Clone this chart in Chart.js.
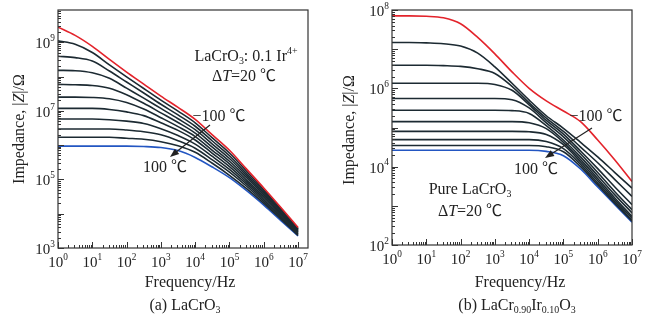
<!DOCTYPE html>
<html>
<head>
<meta charset="utf-8">
<script src="https://cdn.jsdelivr.net/npm/chart.js@4"></script>
<style>
  body { margin: 0; background: #fff; width: 649px; height: 323px; position: relative; overflow: hidden; }
  .box { position: absolute; top: 0; height: 323px; }
</style>
</head>
<body>
<div class="box" style="left:0;width:325px"><canvas id="chartA"></canvas></div>
<div class="box" style="left:325px;width:324px"><canvas id="chartB"></canvas></div>
<script>
// frequency points, log10(f / Hz)
const logFreq = [0, 0.5, 1, 1.5, 2, 2.5, 3, 3.5, 4, 4.5, 5, 5.5, 6, 6.5, 7];
// temperatures, -100 .. 100 C in 20 C steps
const temps = [-100, -80, -60, -40, -20, 0, 20, 40, 60, 80, 100];

// (a) log10 |Z|, one row per temperature
const logZ_a = [
  [9.44, 9.20, 8.88, 8.50, 8.13, 7.78, 7.43, 7.10, 6.75, 6.30, 5.85, 5.30, 4.75, 4.18, 3.60],
  [9.04, 8.94, 8.70, 8.34, 7.99, 7.65, 7.31, 6.99, 6.65, 6.21, 5.77, 5.24, 4.70, 4.14, 3.57],
  [8.59, 8.55, 8.45, 8.16, 7.84, 7.52, 7.19, 6.88, 6.55, 6.12, 5.69, 5.17, 4.65, 4.10, 3.55],
  [8.18, 8.17, 8.11, 7.95, 7.66, 7.37, 7.07, 6.77, 6.45, 6.03, 5.61, 5.11, 4.60, 4.07, 3.52],
  [7.77, 7.76, 7.74, 7.66, 7.47, 7.22, 6.94, 6.66, 6.35, 5.94, 5.53, 5.05, 4.55, 4.03, 3.50],
  [7.40, 7.40, 7.39, 7.35, 7.24, 7.05, 6.80, 6.54, 6.25, 5.85, 5.45, 4.98, 4.50, 3.99, 3.47],
  [7.07, 7.07, 7.07, 7.04, 6.97, 6.86, 6.65, 6.43, 6.15, 5.76, 5.37, 4.92, 4.45, 3.95, 3.45],
  [6.76, 6.76, 6.76, 6.74, 6.70, 6.63, 6.48, 6.28, 6.03, 5.67, 5.29, 4.86, 4.40, 3.91, 3.42],
  [6.47, 6.47, 6.47, 6.47, 6.44, 6.39, 6.30, 6.13, 5.91, 5.57, 5.21, 4.80, 4.35, 3.87, 3.40],
  [6.23, 6.23, 6.23, 6.23, 6.20, 6.17, 6.10, 5.98, 5.79, 5.47, 5.12, 4.73, 4.30, 3.84, 3.37],
  [5.97, 5.97, 5.97, 5.97, 5.97, 5.96, 5.93, 5.84, 5.64, 5.36, 5.05, 4.67, 4.25, 3.80, 3.35]
];

// (b) log10 |Z|
const logZ_b = [
  [7.85, 7.85, 7.84, 7.80, 7.65, 7.30, 6.88, 6.42, 6.00, 5.68, 5.42, 5.15, 4.68, 4.17, 3.62],
  [7.17, 7.17, 7.16, 7.14, 7.08, 6.90, 6.55, 6.13, 5.70, 5.30, 4.98, 4.62, 4.25, 3.85, 3.45],
  [6.59, 6.59, 6.59, 6.58, 6.56, 6.50, 6.38, 6.05, 5.63, 5.24, 4.90, 4.50, 4.10, 3.67, 3.24],
  [6.13, 6.13, 6.13, 6.13, 6.13, 6.13, 6.10, 5.95, 5.58, 5.18, 4.83, 4.40, 3.95, 3.48, 3.03],
  [5.74, 5.74, 5.74, 5.74, 5.74, 5.74, 5.74, 5.71, 5.50, 5.12, 4.76, 4.33, 3.85, 3.36, 2.90],
  [5.44, 5.44, 5.44, 5.44, 5.44, 5.44, 5.44, 5.43, 5.36, 5.05, 4.68, 4.25, 3.77, 3.28, 2.82],
  [5.15, 5.15, 5.15, 5.15, 5.15, 5.15, 5.15, 5.15, 5.12, 4.97, 4.62, 4.18, 3.70, 3.20, 2.73],
  [4.90, 4.90, 4.90, 4.90, 4.90, 4.90, 4.90, 4.90, 4.89, 4.82, 4.56, 4.12, 3.64, 3.15, 2.69],
  [4.69, 4.69, 4.69, 4.69, 4.69, 4.69, 4.69, 4.69, 4.69, 4.64, 4.46, 4.06, 3.58, 3.10, 2.64],
  [4.54, 4.54, 4.54, 4.54, 4.54, 4.54, 4.54, 4.54, 4.54, 4.51, 4.38, 4.00, 3.53, 3.06, 2.61],
  [4.42, 4.42, 4.42, 4.42, 4.42, 4.42, 4.42, 4.42, 4.42, 4.39, 4.28, 3.94, 3.48, 3.03, 2.58]
];

// tick labels (exponents of ten)
const xTickExp = [0, 1, 2, 3, 4, 5, 6, 7];
const yTickExp_a = [3, 5, 7, 9];
const yTickExp_b = [2, 4, 6, 8];

const FAM = '"Liberation Serif", "Noto Sans CJK SC", serif';
const RED = '#e3232b', BLACK = '#1c2a32', BLUE = '#2356c2', INK = '#222';

function makeSets(rows) {
  return rows.map((row, i) => ({
    label: temps[i] + ' ℃',
    data: logFreq.map((lf, j) => ({ x: Math.pow(10, lf), y: Math.pow(10, row[j]) })),
    borderColor: i === 0 ? RED : (i === rows.length - 1 ? BLUE : BLACK),
    borderWidth: 1.6,
    pointRadius: 0,
    fill: false,
    cubicInterpolationMode: 'monotone'
  }));
}

// draw text made of runs: plain strings, or [text, 'sub'|'sup'|'i']
function drawRich(ctx, runs, x, y, size, align) {
  const parts = runs.map(r => typeof r === 'string' ? { t: r, s: 'n' } : { t: r[0], s: r[1] });
  const fontOf = p => {
    const small = p.s === 'sub' || p.s === 'sup';
    return (p.s === 'i' ? 'italic ' : '') + (small ? size * 0.62 : size) + 'px ' + FAM;
  };
  let w = 0;
  parts.forEach(p => { ctx.font = fontOf(p); p.w = ctx.measureText(p.t).width; w += p.w; });
  let cx = align === 'center' ? x - w / 2 : (align === 'right' ? x - w : x);
  ctx.textAlign = 'left';
  ctx.textBaseline = 'middle';
  parts.forEach(p => {
    ctx.font = fontOf(p);
    const dy = p.s === 'sub' ? size * 0.3 : (p.s === 'sup' ? -size * 0.38 : 0);
    ctx.fillText(p.t, cx, y + dy);
    cx += p.w;
  });
}

function arrow(ctx, x1, y1, x2, y2) {
  const a = Math.atan2(y2 - y1, x2 - x1);
  ctx.strokeStyle = INK; ctx.fillStyle = INK; ctx.lineWidth = 1.2;
  ctx.beginPath(); ctx.moveTo(x1, y1); ctx.lineTo(x2 - 6 * Math.cos(a), y2 - 6 * Math.sin(a)); ctx.stroke();
  ctx.beginPath();
  ctx.moveTo(x2, y2);
  ctx.lineTo(x2 - 9 * Math.cos(a) + 3.5 * Math.sin(a), y2 - 9 * Math.sin(a) - 3.5 * Math.cos(a));
  ctx.lineTo(x2 - 9 * Math.cos(a) - 3.5 * Math.sin(a), y2 - 9 * Math.sin(a) + 3.5 * Math.cos(a));
  ctx.closePath(); ctx.fill();
}

// frame, inside ticks, tick labels, titles and notes
function decor(cfg) {
  return {
    id: 'decor',
    afterDraw(chart) {
      const ctx = chart.ctx, ca = chart.chartArea;
      const xs = chart.scales.x, ys = chart.scales.y;
      ctx.save();
      ctx.strokeStyle = '#333'; ctx.lineWidth = 1.2;
      ctx.strokeRect(ca.left, ca.top, ca.right - ca.left, ca.bottom - ca.top);
      ctx.lineWidth = 1;
      for (let k = 0; k <= 8; k++) {
        for (let m = 1; m <= 9; m++) {
          const v = m * Math.pow(10, k);
          if (v < xs.min || v > xs.max) continue;
          const px = Math.round(xs.getPixelForValue(v)) + 0.5;
          ctx.beginPath(); ctx.moveTo(px, ca.bottom); ctx.lineTo(px, ca.bottom - (m === 1 ? 6 : 3)); ctx.stroke();
        }
      }
      for (let k = 1; k <= 10; k++) {
        for (let m = 1; m <= 9; m++) {
          const v = m * Math.pow(10, k);
          if (v < ys.min || v > ys.max) continue;
          const py = Math.round(ys.getPixelForValue(v)) + 0.5;
          ctx.beginPath(); ctx.moveTo(ca.left, py); ctx.lineTo(ca.left + (m === 1 ? 6 : 3), py); ctx.stroke();
        }
      }
      ctx.fillStyle = INK;
      xTickExp.forEach(e => {
        drawRich(ctx, ['10', [String(e), 'sup']], xs.getPixelForValue(Math.pow(10, e)), ca.bottom + 15, 15, 'center');
      });
      cfg.yTicks.forEach(e => {
        drawRich(ctx, ['10', [String(e), 'sup']], ca.left - 3, ys.getPixelForValue(Math.pow(10, e)) + 2, 15, 'right');
      });
      // y axis title
      ctx.save();
      ctx.translate(cfg.yTitleX, cfg.yTitleY);
      ctx.rotate(-Math.PI / 2);
      drawRich(ctx, ['Impedance, |', ['Z', 'i'], '|/Ω'], 0, 0, 16, 'center');
      ctx.restore();
      drawRich(ctx, ['Frequency/Hz'], cfg.xTitleX, 283, 16, 'center');
      drawRich(ctx, cfg.caption, cfg.capX, 306, 16, 'center');
      cfg.notes.forEach(n => drawRich(ctx, n.runs, n.x, n.y, 16, 'center'));
      arrow(ctx, cfg.arrow[0], cfg.arrow[1], cfg.arrow[2], cfg.arrow[3]);
      ctx.restore();
    }
  };
}

function makeChart(id, rows, xMax, yMin, yMax, yWidth, xHeight, cfg) {
  return new Chart(document.getElementById(id), {
    type: 'line',
    data: { datasets: makeSets(rows) },
    options: {
      responsive: true,
      maintainAspectRatio: false,
      animation: false,
      layout: { padding: { top: 10, right: 17, left: 0, bottom: 0 } },
      plugins: { legend: { display: false }, tooltip: { enabled: false } },
      scales: {
        x: {
          type: 'logarithmic', min: 1, max: xMax,
          ticks: { display: false }, grid: { display: false }, border: { display: false },
          afterFit: s => { s.height = xHeight; }
        },
        y: {
          type: 'logarithmic', min: yMin, max: yMax,
          ticks: { display: false }, grid: { display: false }, border: { display: false },
          afterFit: s => { s.width = yWidth; }
        }
      }
    },
    plugins: [decor(cfg)]
  });
}

makeChart('chartA', logZ_a, 1.95e7, 1e3, 8.7e9, 58, 75, {
  yTicks: yTickExp_a,
  yTitleX: 20, yTitleY: 129,
  xTitleX: 190, capX: 185,
  caption: ['(a) LaCrO', ['3', 'sub']],
  notes: [
    { runs: ['LaCrO', ['3', 'sub'], ': 0.1 Ir', ['4+', 'sup']], x: 246, y: 57 },
    { runs: ['Δ', ['T', 'i'], '=20 ℃'], x: 244, y: 77 },
    { runs: ['−100 ℃'], x: 219, y: 117 },
    { runs: ['100 ℃'], x: 165, y: 168 }
  ],
  arrow: [210, 125, 170, 157]
});

makeChart('chartB', logZ_b, 1e7, 1e2, 1e8, 67, 78, {
  yTicks: yTickExp_b,
  yTitleX: 25, yTitleY: 130,
  xTitleX: 195, capX: 192,
  caption: ['(b) LaCr', ['0.90', 'sub'], 'Ir', ['0.10', 'sub'], 'O', ['3', 'sub']],
  notes: [
    { runs: ['−100 ℃'], x: 271, y: 117 },
    { runs: ['100 ℃'], x: 211, y: 170 },
    { runs: ['Pure LaCrO', ['3', 'sub']], x: 145, y: 190 },
    { runs: ['Δ', ['T', 'i'], '=20 ℃'], x: 145, y: 212 }
  ],
  arrow: [267, 128, 220, 158]
});
</script>
</body>
</html>
